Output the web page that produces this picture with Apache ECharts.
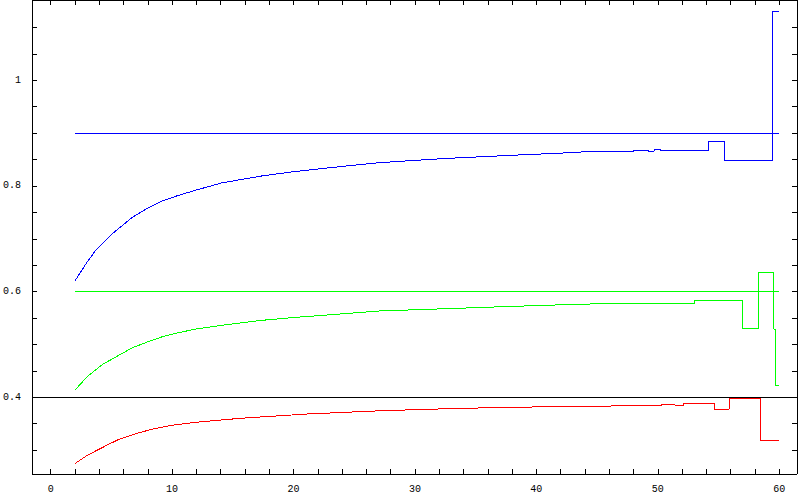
<!DOCTYPE html>
<html><head><meta charset="utf-8">
<script src="https://cdn.jsdelivr.net/npm/echarts@6/dist/echarts.min.js"></script>
<style>
html,body{margin:0;padding:0;background:#fff}
#c{width:800px;height:494px}
#c svg path{shape-rendering:crispEdges}
</style>
</head><body><div id="c"></div>
<script>
// ---- data ----
const blueX = [2,3,3.74,4.29,5,6,6.75,8,9.21,10.5,11.94,14.13,17.41,20,22.34,27,32.45,37.9,42.85,44.5,48,48,49.2,49.2,49.7,49.7,50.2,50.2,54.15,54.15,55.5,55.5,59.42,59.42,60];
const blueY = [0.620,0.656,0.679,0.692,0.708,0.727,0.741,0.758,0.772,0.782,0.792,0.806,0.819,0.827,0.833,0.844,0.852,0.858,0.863,0.8655,0.8655,0.8674,0.8674,0.8655,0.8655,0.869,0.869,0.8674,0.8674,0.884,0.884,0.848,0.848,1.130,1.130];

const greenX = [2,3,4.29,5.5,6.75,8,9.21,10.5,11.94,14.68,17.41,20,22.34,27,32.45,37.9,43.4,46.9,53.05,53.05,57.0,57.0,58.3,58.3,59.55,59.55,59.7,59.7,60];
const greenY = [0.4133,0.439,0.4624,0.478,0.4939,0.505,0.5147,0.522,0.5292,0.538,0.5457,0.551,0.555,0.5633,0.5676,0.572,0.576,0.5779,0.5779,0.5835,0.5835,0.5306,0.5306,0.6365,0.6365,0.529,0.529,0.4227,0.4227];

const redX = [2,3,4.67,5.52,7,8.33,10,12,15.66,21.15,27.4,33.97,41.3,48.6,50.3,50.3,51.4,51.4,52.1,52.1,54.65,54.65,55.9,55.9,58.5,58.5,60];
const redY = [0.2745,0.290,0.3097,0.3193,0.331,0.3394,0.347,0.3527,0.3603,0.3684,0.3747,0.3792,0.3823,0.3841,0.3845,0.3868,0.3868,0.3849,0.3849,0.3889,0.3889,0.3777,0.3777,0.3985,0.3985,0.3173,0.3173];

const refLevels = [0.9, 0.6, 0.4];      // blue, green, red reference levels
const refStart = 2, refEnd = 60;
const axisLevel = 0.4;                   // horizontal axis crossing

const xLabelValues = [0,10,20,30,40,50,60];
const xTickValues = [0,2,4,6,8,10,12,14,16,18,20,22,24,26,28,30,32,34,36,38,40,42,44,46,48,50,52,54,56,58,60];
const yLabelValues = [0.4,0.6,0.8,1];
const yTickValues = [0.3,0.35,0.4,0.45,0.5,0.55,0.6,0.65,0.7,0.75,0.8,0.85,0.9,0.95,1,1.05,1.1];

const xMin = -1.534, xMax = 61.466;
const yMin = 0.2548, yMax = 1.152;

// ---- chart ----
const colors = ['#0000ff', '#00ff00', '#ff0000'];
const seriesPts = [[blueX, blueY], [greenX, greenY], [redX, redY]];
const font = {fontFamily: 'Liberation Mono', fontSize: 10, color: '#000'};

function xAxisDef(pos, labels) {
  return {
    type: 'value', position: pos, min: xMin, max: xMax,
    splitLine: {show: false},
    axisLine: {show: true, onZero: false, lineStyle: {color: '#000', width: 1}},
    axisTick: {show: true, inside: true, length: 5, customValues: xTickValues, lineStyle: {color: '#000', width: 1}},
    axisLabel: labels ? Object.assign({show: true, customValues: xLabelValues, margin: 10}, font) : {show: false}
  };
}
function yAxisDef(pos, labels) {
  return {
    type: 'value', position: pos, min: yMin, max: yMax,
    splitLine: {show: false},
    axisLine: {show: true, onZero: false, lineStyle: {color: '#000', width: 1}},
    axisTick: {show: true, inside: true, length: 5, customValues: yTickValues, lineStyle: {color: '#000', width: 1}},
    axisLabel: labels ? Object.assign({show: true, customValues: yLabelValues, margin: 11,
      formatter: v => String(Math.round(v * 10) / 10)}, font) : {show: false}
  };
}

const series = [];
series.push({
  type: 'line', data: [], silent: true, z: 1,
  markLine: {silent: true, symbol: ['none', 'none'], label: {show: false},
    lineStyle: {color: '#000', width: 1, type: 'solid'},
    data: [{yAxis: axisLevel}], animation: false}
});
refLevels.forEach((lvl, i) => {
  series.push({
    type: 'line', showSymbol: false, silent: true, z: 2,
    lineStyle: {color: colors[i], width: 1},
    data: [[refStart, lvl], [refEnd, lvl]]
  });
});
seriesPts.forEach(([xs, ys], i) => {
  series.push({
    type: 'line', showSymbol: false, silent: true, z: 3,
    lineStyle: {color: colors[i], width: 1},
    data: xs.map((x, k) => [x, ys[k]])
  });
});

const chart = echarts.init(document.getElementById('c'), null, {renderer: 'svg'});
chart.setOption({
  animation: false,
  backgroundColor: '#fff',
  grid: {left: 29, right: 3, top: 0, bottom: 20, containLabel: false},
  xAxis: [xAxisDef('bottom', true), xAxisDef('top', false)],
  yAxis: [yAxisDef('left', true), yAxisDef('right', false)],
  series: series
});
</script>
</body></html>
